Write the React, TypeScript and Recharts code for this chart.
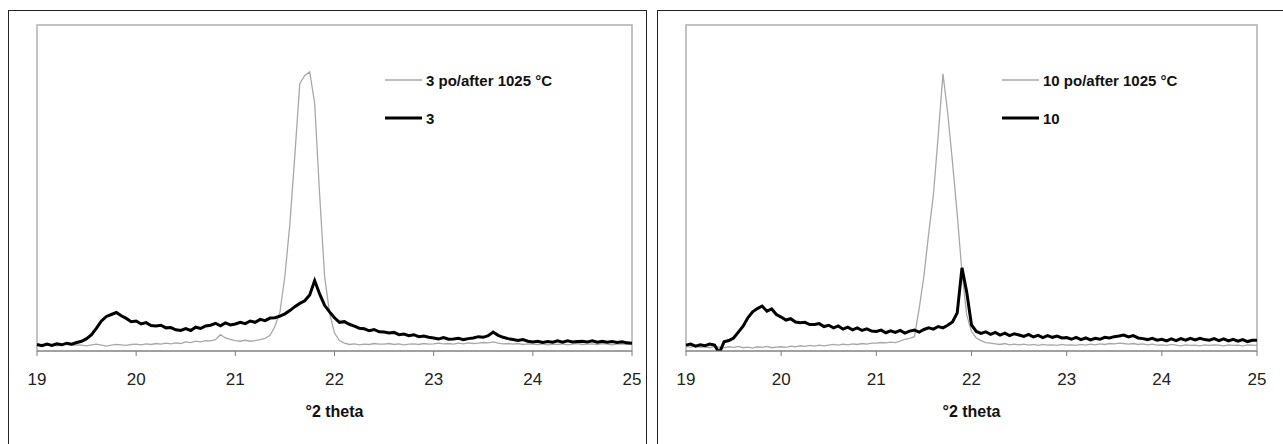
import React from 'react';
import { LineChart, Line, XAxis, YAxis, ReferenceArea } from 'recharts';

// scan positions, °2 theta (0.05 step)
const THETA = Array.from({ length: 121 }, (_, i) => Math.round((19 + i * 0.05) * 100) / 100);
const TICKS = [19, 20, 21, 22, 23, 24, 25];

// intensities (relative, 0-100 of plot height)
const after3 = [
  1.8, 2.0, 1.7, 1.9, 1.6, 1.8, 2.0, 1.7, 1.9, 1.8,
  1.6, 1.9, 2.1, 1.8, 1.5, 1.8, 2.0, 1.9, 1.7, 2.0,
  2.1, 1.9, 2.2, 2.0, 2.3, 2.1, 2.4, 2.2, 2.5, 2.3,
  2.8, 2.6, 3.0, 2.8, 3.2, 3.1, 3.5, 5.0, 4.0, 3.6,
  3.2, 3.0, 3.3, 3.0, 3.2, 3.5, 3.9, 4.8, 7.6, 12.0,
  23, 39, 60, 82, 84.5, 85.6, 76, 48, 23, 11.7,
  5.5, 3.2, 2.4, 2.0, 2.2, 1.9, 2.1, 2.0, 2.3, 2.1,
  2.1, 2.3, 2.0, 2.2, 1.9, 2.1, 2.2, 2.0, 2.3, 2.1,
  2.2, 2.4, 2.2, 2.3, 2.1, 2.4, 2.2, 2.5, 2.3, 2.4,
  2.6, 2.5, 2.8, 2.4, 2.2, 2.3, 2.1, 2.3, 2.0, 2.2,
  2.1, 2.0, 2.2, 1.9, 2.1, 2.0, 2.2, 1.9, 2.1, 2.3,
  2.0, 2.1, 2.2, 2.0, 2.3, 2.1, 1.9, 2.1, 2.2, 2.0,
  2.2,
];

const sample3 = [
  2.0, 1.6, 2.1, 1.7, 2.2, 1.9, 2.4, 2.1, 2.6, 3.0,
  3.8, 5.0, 7.0, 9.2, 10.6, 11.2, 11.8, 10.8, 10.0, 9.0,
  9.2, 8.3, 8.7, 7.8, 7.7, 7.9, 7.1, 7.2, 6.5, 6.3,
  6.9, 6.3, 7.3, 6.9, 7.7, 7.9, 8.5, 7.7, 8.6, 8.0,
  8.3, 8.8, 8.4, 9.2, 8.8, 9.7, 9.3, 10.1, 10.2, 10.7,
  11.4, 12.4, 13.6, 14.6, 15.4, 17.2, 21.6, 17.5, 14.0, 12.0,
  10.2, 8.8, 9.0, 8.2, 7.6, 7.0, 6.8, 6.2, 6.6, 5.9,
  5.8, 5.5, 5.7, 5.0, 5.2, 4.7, 5.0, 4.4, 4.6, 4.2,
  4.0, 3.7, 4.1, 3.6, 3.7, 3.9, 3.5, 3.8, 4.0, 4.4,
  4.2, 4.7, 5.8, 4.8, 4.2, 3.8, 3.5, 3.2, 3.5, 3.0,
  2.8, 3.0, 2.6, 2.9, 2.7, 3.1, 2.7, 3.1, 2.8, 2.9,
  3.0, 2.8, 3.1, 2.7, 3.0, 2.7, 2.9, 2.6, 2.8, 2.5,
  2.4,
];

const after10 = [
  1.4, 1.2, 1.5, 1.1, 1.3, 1.0, 1.4, 1.2, 1.0, 1.3,
  1.1, 1.4, 1.0, 1.2, 0.9, 1.3, 1.1, 1.4, 1.0, 1.2,
  1.3, 1.1, 1.5, 1.3, 1.6, 1.4, 1.7, 1.5, 1.8, 1.6,
  1.8, 2.0, 1.8, 2.1, 1.9, 2.2, 2.0, 2.3, 2.1, 2.4,
  2.4, 2.6, 2.5, 2.7, 2.6, 3.0, 3.6, 3.9, 4.4, 13.0,
  23, 36, 48, 66, 85, 73, 58, 42, 24, 11,
  6.0, 4.0, 3.2, 2.6, 2.4, 2.2, 2.0, 2.3, 1.9, 2.1,
  1.9, 2.1, 1.8, 2.0, 1.7, 2.0, 1.8, 1.9, 1.7, 2.0,
  1.8, 1.9, 1.7, 2.0, 1.8, 2.1, 1.9, 2.2, 2.0, 2.3,
  2.2, 2.4, 2.3, 2.1, 2.3, 2.0, 2.2, 1.9, 2.1, 1.8,
  1.9, 1.7, 2.0, 1.8, 1.6, 1.9, 1.7, 1.8, 1.6, 1.9,
  1.7, 1.9, 1.8, 1.6, 1.9, 1.7, 1.8, 1.6, 1.9, 1.8,
  1.7,
];

const sample10 = [
  1.8, 2.1, 1.5, 1.9, 1.6, 2.1, 1.8, -0.6, 2.8, 3.2,
  4.0, 5.8, 7.6, 10.2, 12.0, 13.0, 13.8, 12.2, 12.9, 11.2,
  10.4, 9.5, 9.9, 8.9, 8.7, 8.8, 8.1, 8.1, 8.4, 7.5,
  7.9, 7.1, 7.7, 6.7, 7.3, 6.5, 7.1, 6.3, 6.8, 6.1,
  6.0, 6.4, 5.6, 6.2, 5.7, 6.3, 5.5, 6.1, 6.4, 5.8,
  6.6, 7.1, 6.7, 7.5, 7.1, 7.9, 8.9, 11.7, 25.5, 18.0,
  8.0, 6.0, 5.4, 5.9, 5.1, 5.7, 4.9, 5.5, 4.7, 5.3,
  4.9, 4.5, 5.1, 4.3, 4.8, 4.1, 4.7, 4.2, 4.6, 4.0,
  4.1, 3.6, 4.2, 3.5, 4.0, 3.4, 3.9, 3.6, 4.2, 4.0,
  4.4, 4.6, 4.9, 4.3, 4.7, 4.0, 3.8, 3.5, 3.9, 3.3,
  3.6, 3.1, 3.7, 3.2, 3.8, 3.3, 3.9, 3.4, 3.9, 3.5,
  3.3, 3.8, 3.2, 3.7, 3.1, 3.6, 3.0, 3.5, 2.9, 3.3,
  3.3,
];

const FONT = '"Liberation Sans", Arial, sans-serif';
const AFTER_COLOR = '#a8a8a8';

const LegendRow = ({ color, width, label }: { color: string; width: number; label: string }) => (
  <div style={{ display: 'flex', alignItems: 'center', height: 38 }}>
    <svg width={37} height={6} style={{ marginRight: 4 }}>
      <line x1={0} y1={3} x2={37} y2={3} stroke={color} strokeWidth={width} />
    </svg>
    <span style={{ fontSize: 15, fontWeight: 700, color: '#111', whiteSpace: 'nowrap' }}>{label}</span>
  </div>
);

type PanelProps = {
  left: number;
  width: number;
  marginLeft: number;
  marginRight: number;
  legendLeft: number;
  after: number[];
  sample: number[];
  afterName: string;
  sampleName: string;
};

const XrdPanel = ({ left, width, marginLeft, marginRight, legendLeft, after, sample, afterName, sampleName }: PanelProps) => {
  const data = THETA.map((theta, i) => ({ theta, after: after[i], sample: sample[i] }));
  return (
    <div style={{ position: 'absolute', left, top: 0, width, height: 444 }}>
      <LineChart
        width={width}
        height={444}
        data={data}
        margin={{ top: 25, right: marginRight, left: marginLeft, bottom: 63 }}
        style={{ fontFamily: FONT }}
      >
        <XAxis
          dataKey="theta"
          type="number"
          domain={[19, 25]}
          ticks={TICKS}
          height={30}
          tickSize={5}
          tickMargin={17}
          stroke="#7f7f7f"
          tick={{ fill: '#222', fontSize: 17, fontFamily: FONT }}
          label={{ value: '°2 theta', position: 'bottom', offset: 25, fill: '#111', fontSize: 16, fontWeight: 700 }}
        />
        <YAxis hide domain={[0, 100]} allowDataOverflow />
        <ReferenceArea x1={19} x2={25} y1={0} y2={100} fill="none" stroke="#b0b0b0" strokeWidth={1.5} ifOverflow="visible" />
        <Line
          name={afterName}
          dataKey="after"
          type="linear"
          stroke={AFTER_COLOR}
          strokeWidth={1.3}
          dot={false}
          isAnimationActive={false}
        />
        <Line
          name={sampleName}
          dataKey="sample"
          type="linear"
          stroke="#000"
          strokeWidth={3}
          dot={false}
          isAnimationActive={false}
        />
      </LineChart>
      {/* legend */}
      <div style={{ position: 'absolute', left: legendLeft, top: 61, fontFamily: FONT }}>
        <LegendRow color={AFTER_COLOR} width={1.3} label={afterName} />
        <LegendRow color="#000" width={3} label={sampleName} />
      </div>
    </div>
  );
};

const App = () => {
  return (
    <div style={{ position: 'absolute', left: 0, top: 0, width: 1283, height: 444, overflow: 'hidden', background: '#fff' }}>
      <div style={{ position: 'absolute', left: 8, top: 10, width: 637, height: 460, border: '1px solid #222' }} />
      <div style={{ position: 'absolute', left: 657, top: 10, width: 700, height: 460, border: '1px solid #222' }} />
      <XrdPanel
        left={0}
        width={646}
        marginLeft={37}
        marginRight={14}
        legendLeft={385}
        after={after3}
        sample={sample3}
        afterName="3 po/after 1025 °C"
        sampleName="3"
      />
      <XrdPanel
        left={646}
        width={637}
        marginLeft={40}
        marginRight={26}
        legendLeft={356}
        after={after10}
        sample={sample10}
        afterName="10 po/after 1025 °C"
        sampleName="10"
      />
    </div>
  );
};

export default App;
